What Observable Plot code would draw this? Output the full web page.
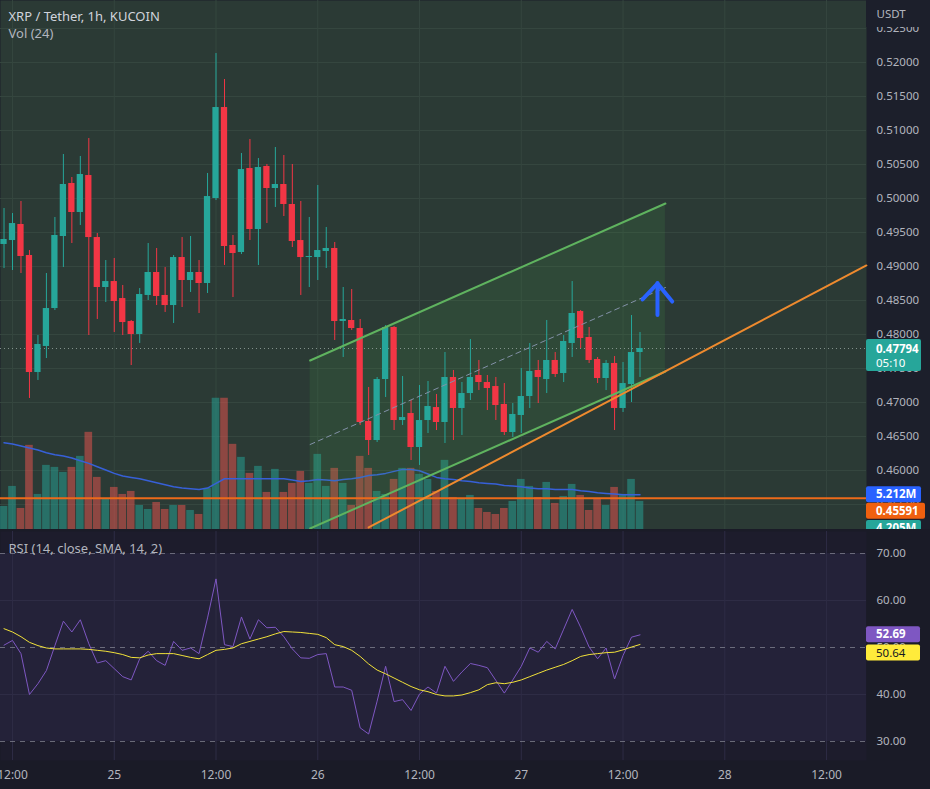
<!DOCTYPE html>
<html><head><meta charset="utf-8">
<script src="https://cdn.jsdelivr.net/npm/d3@7"></script>
<script src="https://cdn.jsdelivr.net/npm/@observablehq/plot@0.6"></script>
<style>
body{margin:0;background:#181a25;}
#wrap{position:relative;width:930px;height:789px;overflow:hidden;font-family:"Noto Sans",sans-serif;background:#181a25;}
</style></head><body><div id="wrap"></div>
<script>
// ---- data (hours counted from 24th 12:00, hourly candles) ----
const firstHour = -1;
const open = [0.49324,0.49382,0.49618,0.49162,0.47441,0.47824,0.48382,0.49441,0.50221,0.49794,
0.50338,0.49426,0.48691,0.48779,0.48529,0.48191,0.48000,0.48574,0.48912,0.48574,
0.48426,0.49132,0.48794,0.48912,0.48750,0.50000,0.51338,0.49309,0.49206,0.50441,
0.49544,0.50471,0.50147,0.50206,0.49912,0.49382,0.49132,0.49132,0.49221,0.49265,
0.48191,0.48206,0.48088,0.46721,0.46441,0.47338,0.48103,0.46735,0.46838,0.46338,
0.46735,0.46926,0.46706,0.47368,0.46912,0.47132,0.47397,0.47294,0.47235,0.46971,
0.46559,0.46809,0.47088,0.47471,0.47338,0.47618,0.47426,0.47868,0.48338,0.47956,
0.47632,0.47353,0.47574,0.46912,0.47265,0.47735];
const high = [0.49853,0.49779,0.49956,0.49235,0.47985,0.48897,0.49721,0.50647,0.50309,0.50618,
0.50882,0.49485,0.49088,0.49118,0.48721,0.48206,0.48676,0.49338,0.49265,0.48985,
0.49162,0.49426,0.49441,0.49088,0.50368,0.52132,0.51750,0.49456,0.50662,0.50868,
0.50588,0.50500,0.50750,0.50632,0.50500,0.49956,0.49721,0.50191,0.49574,0.49353,
0.48691,0.48662,0.48221,0.47221,0.47368,0.48132,0.48118,0.47382,0.47029,0.47250,
0.47309,0.47118,0.47735,0.47471,0.47294,0.47926,0.47618,0.47397,0.47368,0.47279,
0.46985,0.47500,0.47868,0.47618,0.48206,0.47735,0.47985,0.48779,0.48353,0.48103,
0.47662,0.47618,0.47676,0.47588,0.48279,0.48029];
const low = [0.48971,0.48941,0.48897,0.47059,0.47324,0.47647,0.48353,0.48985,0.49338,0.49603,
0.47985,0.48221,0.48471,0.48029,0.47985,0.47544,0.47868,0.48500,0.48426,0.48324,
0.48162,0.48397,0.48618,0.48309,0.48603,0.49971,0.49015,0.48544,0.49176,0.49382,
0.49015,0.49632,0.49868,0.49735,0.49279,0.48574,0.48691,0.48794,0.48971,0.47912,
0.47662,0.48059,0.46662,0.46221,0.46412,0.47074,0.46588,0.46662,0.46147,0.46074,
0.46544,0.46588,0.46397,0.46441,0.46515,0.47029,0.47176,0.46882,0.46735,0.46515,
0.46485,0.46544,0.46912,0.46985,0.47132,0.47368,0.47294,0.47662,0.47794,0.47574,
0.47279,0.47176,0.46588,0.46853,0.47000,0.47368];
const close = [0.49397,0.49632,0.49147,0.47441,0.47853,0.48382,0.49456,0.50206,0.49794,0.50353,
0.49426,0.48691,0.48779,0.48485,0.48176,0.48000,0.48588,0.48912,0.48559,0.48426,
0.49132,0.48794,0.48912,0.48750,0.50029,0.51338,0.49294,0.49191,0.50426,0.49544,
0.50456,0.50147,0.50206,0.49912,0.49368,0.49132,0.49147,0.49235,0.49265,0.48191,
0.48221,0.48088,0.46706,0.46441,0.47338,0.48103,0.46735,0.46779,0.46338,0.46735,
0.46941,0.46706,0.47368,0.46912,0.47132,0.47368,0.47294,0.47206,0.46956,0.46559,
0.46824,0.47088,0.47456,0.47368,0.47618,0.47412,0.47897,0.48309,0.47941,0.47618,
0.47353,0.47574,0.46912,0.47279,0.47735,0.47794];
const volume = [3.45,6.45,3.15,12.6,5.25,9.6,9.3,8.55,9.3,10.95,
14.55,7.8,4.5,6.3,5.25,5.7,3.6,3.0,4.05,3.0,
3.6,3.6,2.85,2.25,6.15,19.65,19.65,12.75,10.8,8.4,
9.45,5.55,9.0,5.55,6.9,8.7,6.9,11.25,6.45,9.15,
6.9,3.6,10.95,9.15,5.7,5.25,7.5,9.15,9.15,8.25,
7.5,5.7,10.35,4.8,4.5,5.1,3.15,2.55,2.25,3.15,
4.2,7.5,6.45,4.8,7.05,3.9,4.95,6.75,5.1,2.85,
4.65,3.6,6.3,5.25,7.5,4.205];
const volMA = [13.0,12.8,12.5,12.2,11.9,11.5,11.2,11.0,10.7,10.3,
9.9,9.4,8.9,8.4,8.0,7.8,7.6,7.3,7.0,6.7,
6.4,6.2,6.1,6.0,6.2,6.9,7.6,7.6,7.6,7.6,
7.6,7.6,7.6,7.6,7.4,7.2,7.3,7.5,7.4,7.3,
7.5,7.6,7.8,8.1,8.2,8.4,8.7,9.0,9.0,8.8,
8.3,7.8,7.6,7.5,7.3,7.2,7.0,6.9,6.8,6.6,
6.5,6.4,6.2,6.1,6.1,6.0,6.0,6.0,5.8,5.7,
5.5,5.4,5.3,5.2,5.2,5.212];
const rsi = [50.5,51.5,48.7,40.0,42.3,45.1,50.4,55.6,53.3,55.9,
50.8,46.7,47.2,45.5,43.8,43.1,47.6,49.2,47.2,46.2,
51.3,49.4,49.9,48.7,56.3,64.6,50.6,50.2,56.5,51.8,
55.9,54.2,54.3,52.3,49.7,47.8,47.7,48.5,48.7,41.6,
41.6,40.9,32.9,31.6,38.6,46.0,38.5,38.9,36.6,40.1,
41.6,40.3,46.0,42.8,44.8,46.6,46.2,45.7,43.0,40.3,
43.1,46.0,49.9,49.0,51.3,49.7,53.9,58.1,54.3,50.1,
47.6,49.9,43.3,48.3,52.2,52.69];
const rsiMA = [54.0,53.3,52.3,51.1,50.4,49.9,49.7,49.7,49.7,49.7,
49.6,49.4,49.2,48.9,48.5,47.9,47.8,48.4,48.7,48.7,
48.7,48.3,47.9,47.6,48.5,49.4,49.6,49.9,50.8,51.3,
51.8,52.3,52.9,53.4,53.3,53.2,53.0,52.8,52.1,50.6,
50.2,49.4,48.1,46.5,45.2,44.4,43.5,42.6,41.7,41.0,
40.6,40.0,39.7,39.7,39.9,40.4,41.0,42.1,42.5,42.3,
42.6,43.1,43.8,44.5,45.2,45.8,46.4,47.2,48.1,48.5,
48.7,48.9,49.0,49.5,50.1,50.64];

const timeTicks = [0,12,24,36,48,60,72,84,96];
const timeLabels = ["12:00","25","12:00","26","12:00","27","12:00","28","12:00"];
const priceTicks = [0.455,0.46,0.465,0.47,0.475,0.48,0.485,0.49,0.495,0.5,0.505,0.51,0.515,0.52,0.525];
const rsiTicks = [30,40,50,60,70];
const rsiGrid = [40,60];
const rsiBands = [30,50,70];
const rsiBand = [30,70];

// drawings (time in hours, price in USDT)
const channelT = [35.1, 77.0];
const channelUpper = [0.47618, 0.49926];
const channelLower = [0.45147, 0.47456];
const trendT = [42.0, 100.7];
const trendP = [0.45162, 0.49015];
const hLevel = 0.45591;
const arrowT = [74.3, 76.06, 77.8];
const arrowP = [0.48515, 0.48750, 0.48485];
const arrowBase = 0.48279;
const countdown = "05:10";

const title = "XRP / Tether, 1h, KUCOIN";
const volTitle = "Vol (24)";
const rsiTitle = "RSI (14, close, SMA, 14, 2)";
const unit = "USDT";

// ---- build ----
const GREEN = "#26a69a", RED = "#f23645";
const candles = open.map((o, i) => ({t: firstHour + i, open: o, high: high[i], low: low[i], close: close[i],
  vol: volume[i], volMA: volMA[i], rsi: rsi[i], rsiMA: rsiMA[i]}));
const up = d => d.close >= d.open;
const channel = channelT.map((t, i) => ({t, upper: channelUpper[i], lower: channelLower[i]}));
const trend = trendT.map((t, i) => ({t, p: trendP[i]}));
const arrowHead = arrowT.map((t, i) => ({t, p: arrowP[i]}));
const last = candles[candles.length - 1];

const FONT = "'Noto Sans', sans-serif";
const xDomain = [-1.415, 100.71];
const priceDomain = [0.451324, 0.529118];
const fmt5 = d3.format(".5f"), fmt2 = d3.format(".2f");
const fmtM = v => d3.format(".3f")(v) + "M";

function tag({value, lines, fill, color = "#ffffff", dy = 0, top = -8, h = 16, w = 55}) {
  return (index, scales, values, dims) => {
    const y = scales.y(value) + dy;
    const x0 = dims.width - dims.marginRight;
    const g = d3.create("svg:g");
    g.append("rect").attr("x", x0).attr("y", y + top).attr("width", w).attr("height", h).attr("rx", 2).attr("fill", fill);
    lines.forEach(l => g.append("text").attr("x", x0 + 10).attr("y", y + l.dy).attr("dy", "0.35em")
      .attr("text-anchor", "start")
      .attr("fill", l.color || color).attr("font-size", 11.5).attr("font-family", FONT)
      .attr("font-weight", l.weight || "normal").text(l.text));
    return g.node();
  };
}
function cover(y0, y1, fill) {
  return (index, scales, values, dims) => {
    const x0 = dims.width - dims.marginRight;
    return d3.create("svg:rect").attr("x", x0).attr("y", y0).attr("width", dims.marginRight).attr("height", y1 - y0).attr("fill", fill).node();
  };
}

const baseStyle = (bg, top) => ({background: bg, position: "absolute", left: "0px", top: top + "px", overflow: "hidden", fontFamily: FONT});
const wrap = document.getElementById("wrap");

// A: background, grid, price axis
const A = Plot.plot({
  width: 930, height: 529, marginLeft: 0, marginRight: 64, marginTop: 0, marginBottom: 0,
  x: {domain: xDomain, axis: null}, y: {domain: priceDomain, axis: null},
  style: baseStyle("#1c1f2b", 0),
  marks: [
    Plot.frame({fill: "#2b3a35", stroke: "none"}),
    Plot.ruleY(priceTicks, {stroke: "#35463f"}),
    Plot.ruleX(timeTicks, {stroke: "#35463f"}),
    Plot.text(priceTicks, {y: d => d, text: fmt5, frameAnchor: "right", dx: 10, textAnchor: "start", fill: "#b2b5be", fontSize: 11.5}),
    cover(0, 27, "#1c1f2b"),
    Plot.text([unit], {frameAnchor: "top-right", dx: 10, dy: 14, lineAnchor: "middle", textAnchor: "start", fill: "#b2b5be", fontSize: 11.5})
  ]
});
wrap.appendChild(A);

// B: volume overlay
const B = Plot.plot({
  width: 930, height: 529, marginLeft: 0, marginRight: 64, marginTop: 0, marginBottom: 0,
  x: {domain: xDomain, axis: null}, y: {domain: [0, 79.2], axis: null},
  style: baseStyle("transparent", 0),
  marks: [
    Plot.rect(candles, {x1: d => d.t - 0.45, x2: d => d.t + 0.45, y1: () => 0, y2: "vol",
      fill: d => up(d) ? "rgba(38,166,154,0.5)" : "rgba(239,83,80,0.5)"}),
    Plot.line(candles, {x: "t", y: "volMA", stroke: "#3760d8", strokeWidth: 1.5}),
    tag({value: last.volMA, fill: "#2962ff", lines: [{text: fmtM(last.volMA), dy: 0, weight: "bold"}]}),
    tag({value: last.vol, fill: GREEN, dy: 27, lines: [{text: fmtM(last.vol), dy: 0, weight: "bold"}]})
  ]
});
wrap.appendChild(B);

// D: candles & drawings
const D = Plot.plot({
  width: 930, height: 529, marginLeft: 0, marginRight: 64, marginTop: 0, marginBottom: 0,
  x: {domain: xDomain, axis: null}, y: {domain: priceDomain, axis: null},
  style: baseStyle("transparent", 0),
  marks: [
    Plot.areaY(channel, {x: "t", y1: "lower", y2: "upper", fill: "#4caf50", fillOpacity: 0.13}),
    Plot.ruleY([hLevel], {stroke: "#ec6a1a", strokeWidth: 2}),
    Plot.ruleY([last.close], {stroke: "#9aa7a2", strokeOpacity: 0.8, strokeDasharray: "1,3"}),
    Plot.ruleX(candles, {x: "t", y1: "low", y2: "high", stroke: d => up(d) ? GREEN : RED, strokeWidth: 1}),
    Plot.rect(candles, {x1: d => d.t - 0.37, x2: d => d.t + 0.37, y1: "open", y2: "close", fill: d => up(d) ? GREEN : RED}),
    Plot.line(channel, {x: "t", y: "upper", stroke: "#5fb35f", strokeWidth: 2}),
    Plot.line(channel, {x: "t", y: "lower", stroke: "#5fb35f", strokeWidth: 2}),
    Plot.line(channel, {x: "t", y: d => (d.upper + d.lower) / 2, stroke: "#8391a8", strokeWidth: 1, strokeDasharray: "5,4"}),
    Plot.line(trend, {x: "t", y: "p", stroke: "#ee8a2e", strokeWidth: 2}),
    Plot.ruleX([arrowT[1]], {y1: arrowBase, y2: arrowP[1], stroke: "#2962ff", strokeWidth: 4, strokeLinecap: "round"}),
    Plot.line(arrowHead, {x: "t", y: "p", stroke: "#2962ff", strokeWidth: 4, strokeLinecap: "round", strokeLinejoin: "round"}),
    Plot.text([title], {frameAnchor: "top-left", dx: 8, dy: 16, lineAnchor: "middle", textAnchor: "start", fill: "#d1d4dc", fontSize: 13}),
    Plot.text([volTitle], {frameAnchor: "top-left", dx: 8, dy: 33, lineAnchor: "middle", textAnchor: "start", fill: "#b2b5be", fontSize: 13}),
    tag({value: last.close, fill: GREEN, top: -9, h: 32, w: 55, lines: [{text: fmt5(last.close), dy: 1, weight: "bold"}, {text: countdown, dy: 15}]}),
    tag({value: hLevel, fill: "#f0600f", dy: 13, w: 59, lines: [{text: fmt5(hLevel), dy: 0, weight: "bold"}]})
  ]
});
wrap.appendChild(D);

// C: RSI pane + time axis
const C = Plot.plot({
  width: 930, height: 260, marginLeft: 0, marginRight: 64, marginTop: 2, marginBottom: 29,
  x: {domain: xDomain, axis: null}, y: {domain: [25.96, 74.68], axis: null},
  style: baseStyle("#1a1b27", 529),
  marks: [
    Plot.frame({fill: "#1d1c2c", stroke: "none"}),
    Plot.rect([rsiBand], {y1: d => d[0], y2: d => d[1], fill: "#242239"}),
    Plot.ruleY(rsiGrid, {stroke: "#2e2c45"}),
    Plot.ruleX(timeTicks, {stroke: "#2e2c45"}),
    Plot.ruleY(rsiBands, {stroke: "#8a8c99", strokeOpacity: 0.7, strokeDasharray: "5,5"}),
    Plot.line(candles, {x: "t", y: "rsi", stroke: "#7e57c2", strokeWidth: 1}),
    Plot.line(candles, {x: "t", y: "rsiMA", stroke: "#f2e23a", strokeWidth: 1}),
    Plot.text(rsiTicks, {y: d => d, text: fmt2, frameAnchor: "right", dx: 10, textAnchor: "start", fill: "#b2b5be", fontSize: 11.5}),
    Plot.text(timeTicks, {x: d => d, text: (d, i) => timeLabels[i], frameAnchor: "bottom", lineAnchor: "middle", dy: 15, fill: "#b2b5be", fontSize: 12}),
    Plot.text([rsiTitle], {frameAnchor: "top-left", dx: 8, dy: 17, lineAnchor: "middle", textAnchor: "start", fill: "#b2b5be", fontSize: 13}),
    tag({value: last.rsi, fill: "#7e57c2", w: 54, lines: [{text: fmt2(last.rsi), dy: 0, weight: "bold"}]}),
    tag({value: last.rsiMA, fill: "#ffeb3b", color: "#131722", dy: 8.5, w: 54, lines: [{text: fmt2(last.rsiMA), dy: 0}]})
  ]
});
wrap.appendChild(C);
</script></body></html>
